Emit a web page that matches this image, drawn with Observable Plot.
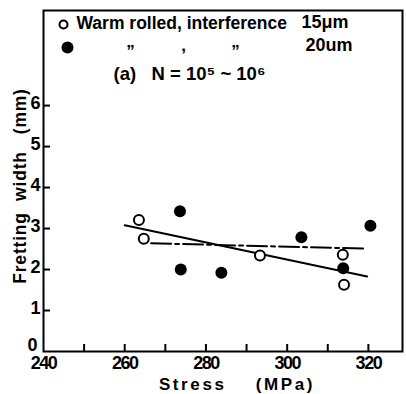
<!DOCTYPE html>
<html><head><meta charset="utf-8">
<script src="https://cdn.jsdelivr.net/npm/d3@7"></script>
<script src="https://cdn.jsdelivr.net/npm/@observablehq/plot@0.6"></script>
<style>
body{margin:0;background:#fff;}
#chart svg{display:block;}
</style>
</head><body><div id="chart"></div>
<script>
// Data
const open15Stress = [263.5, 264.7, 293.3, 313.7, 314.0];
const open15Width  = [3.21, 2.75, 2.34, 2.36, 1.63];
const filled20Stress = [273.6, 273.8, 283.8, 303.5, 313.8, 320.5];
const filled20Width  = [3.42, 2.00, 1.92, 2.79, 2.03, 3.07];
const solidLineStress = [260, 319.7];
const solidLineWidth  = [3.08, 1.83];
const dashLineStress = [266.5, 319];
const dashLineWidth  = [2.64, 2.51];
const xTickValues = [250, 260, 270, 280, 290, 300, 310, 320];
const xLabelValues = [240, 260, 280, 300, 320];
const yTickValues = [1, 2, 3, 4, 5, 6];
const yLabelValues = [0, 1, 2, 3, 4, 5, 6];

const open = open15Stress.map((s, i) => ({s, w: open15Width[i]}));
const filled = filled20Stress.map((s, i) => ({s, w: filled20Width[i]}));
const solid = solidLineStress.map((s, i) => ({s, w: solidLineWidth[i]}));
const dash = dashLineStress.map((s, i) => ({s, w: dashLineWidth[i]}));

const font = "'Liberation Sans', Arial, sans-serif";
const one = [0];

const chart = Plot.plot({
  width: 406, height: 394,
  marginLeft: 43, marginRight: 4, marginTop: 10, marginBottom: 43,
  style: {fontFamily: font, fontSize: "17px", fontWeight: "bold", color: "black", background: "white"},
  x: {domain: [240, 328.4]},
  y: {domain: [0, 8.32]},
  marks: [
    Plot.frame({stroke: "black", strokeWidth: 2}),
    Plot.axisX({ticks: xTickValues, tickSize: -7, strokeWidth: 2, text: null, label: null}),
    Plot.axisX({ticks: xLabelValues, tickSize: 0, tickPadding: 5, fontSize: 18, label: null, className: "xlab"}),
    Plot.axisY({ticks: yTickValues, tickSize: -7, strokeWidth: 2, text: null, label: null}),
    Plot.axisY({ticks: yLabelValues.slice(1), tickSize: 0, tickPadding: 3, dy: -2, fontSize: 18, label: null}),
    Plot.axisY({ticks: yLabelValues.slice(0, 1), tickSize: 0, tickPadding: 6, dy: -6, fontSize: 18, label: null}),
    Plot.line(solid, {x: "s", y: "w", stroke: "black", strokeWidth: 2}),
    Plot.line(dash, {x: "s", y: "w", stroke: "black", strokeWidth: 2, strokeDasharray: "20,4,4,4"}),
    Plot.dot(open, {x: "s", y: "w", r: 5, stroke: "black", strokeWidth: 2, fill: "white"}),
    Plot.dot(filled, {x: "s", y: "w", r: 6, fill: "black", stroke: "none"}),
    // legend
    Plot.dot(one, {frameAnchor: "top-left", dx: 20, dy: 14, r: 4, stroke: "black", strokeWidth: 2, fill: "white"}),
    Plot.dot(one, {frameAnchor: "top-left", dx: 24, dy: 37, r: 6, fill: "black"}),
    Plot.text(["Warm rolled, interference"], {frameAnchor: "top-left", dx: 33, dy: 13, textAnchor: "start", fontSize: 17.5, lineAnchor: "middle"}),
    Plot.text(["15μm"], {frameAnchor: "top-left", dx: 258, dy: 12, textAnchor: "start", fontSize: 18, lineAnchor: "middle"}),
    Plot.text(["\u201D"], {frameAnchor: "top-left", dx: 87, dy: 41, textAnchor: "middle", fontSize: 17, lineAnchor: "middle"}),
    Plot.text([","], {frameAnchor: "top-left", dx: 140, dy: 35, textAnchor: "middle", fontSize: 17, lineAnchor: "middle"}),
    Plot.text(["\u201D"], {frameAnchor: "top-left", dx: 192, dy: 41, textAnchor: "middle", fontSize: 17, lineAnchor: "middle"}),
    Plot.text(["20um"], {frameAnchor: "top-left", dx: 262, dy: 35, textAnchor: "start", fontSize: 18, lineAnchor: "middle"}),
    Plot.text(["(a)   N = 10\u2075 ~ 10\u2076"], {frameAnchor: "top-left", dx: 70, dy: 64, textAnchor: "start", fontSize: 18.5, lineAnchor: "middle"}),
    // axis titles
    Plot.text(["Stress    (MPa)"], {frameAnchor: "bottom", dy: 33, dx: 14, fontSize: 17, lineAnchor: "middle", textAnchor: "middle"}),
    Plot.text(["Fretting  width   (mm)"], {frameAnchor: "left", dx: -23, dy: 5, rotate: -90, fontSize: 17.5, textAnchor: "middle", lineAnchor: "middle"})
  ]
});
document.getElementById("chart").appendChild(chart);
d3.select(chart).selectAll("text").filter(function() { return this.textContent === "Stress    (MPa)"; })
  .attr("letter-spacing", "2.6px");
d3.select(chart).selectAll("text").filter(function() { return this.textContent === "Fretting  width   (mm)"; })
  .attr("letter-spacing", "0.8px");
d3.select(chart).selectAll(".xlab text").attr("letter-spacing", "-1.5px");
</script>
</body></html>
